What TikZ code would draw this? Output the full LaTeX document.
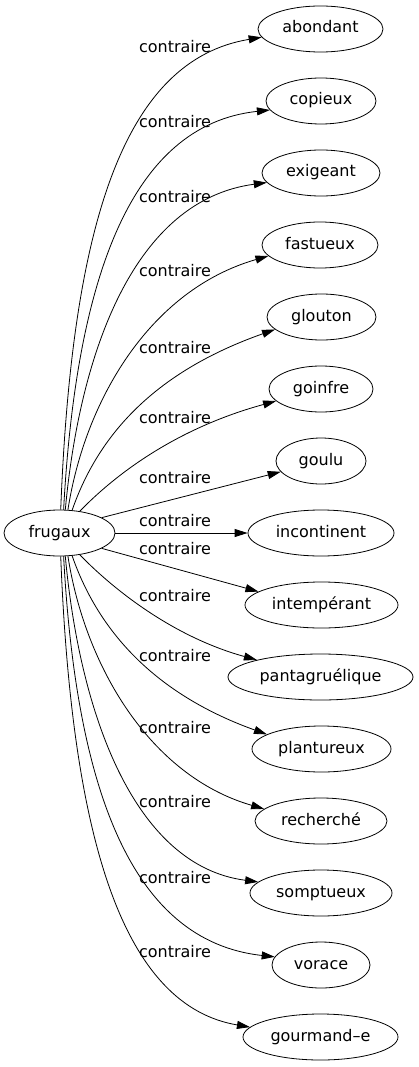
\documentclass[tikz,border=0pt]{standalone}
\usepackage{fontspec}
\setmainfont{DejaVu Sans}
\usetikzlibrary{shapes.geometric,arrows.meta}
\begin{document}
\begin{tikzpicture}[x=1pt,y=-1pt,
  every node/.style={font=\fontsize{16}{19}\selectfont},
  word/.style={draw, ellipse, line width=0.8pt, inner sep=0pt, minimum height=46pt, text height=11.5pt, text depth=3.5pt},
  lab/.style={inner sep=0pt, text height=11.5pt, text depth=0pt},
  rel/.style={line width=0.8pt, -{Triangle[length=13pt,width=8pt]}}]
\useasboundingbox (0,0) rectangle (419,1067);

\node[word, minimum width=111pt] (frugaux) at (59.5,533) {frugaux};
\node[word, minimum width=125pt] (abondant) at (320.5,29) {abondant};
\node[word, minimum width=110pt] (copieux) at (321,101) {copieux};
\node[word, minimum width=118pt] (exigeant) at (321,173) {exigeant};
\node[word, minimum width=116pt] (fastueux) at (320,245) {fastueux};
\node[word, minimum width=109pt] (glouton) at (321.5,317) {glouton};
\node[word, minimum width=104pt] (goinfre) at (321,389) {goinfre};
\node[word, minimum width=90pt] (goulu) at (321,461) {goulu};
\node[word, minimum width=146pt] (incontinent) at (321,533) {incontinent};
\node[word, minimum width=153pt] (intemperant) at (321.5,605) {intempérant};
\node[word, minimum width=185pt] (pantagruelique) at (320.5,677) {pantagruélique};
\node[word, minimum width=139pt] (plantureux) at (321.5,749) {plantureux};
\node[word, minimum width=132pt] (recherche) at (321,821) {recherché};
\node[word, minimum width=142pt] (somptueux) at (321,893) {somptueux};
\node[word, minimum width=98pt] (vorace) at (321,965) {vorace};
\node[word, minimum width=155pt] (gourmandE) at (320.5,1037) {gourmand–e};

\draw[rel] (frugaux.87) .. controls (72,220) and (125,60) .. (abondant.188);
\draw[rel] (frugaux.80) .. controls (76,280) and (130,125) .. (copieux.190);
\draw[rel] (frugaux.76) .. controls (80,350) and (135,200) .. (exigeant.190);
\draw[rel] (frugaux.70) .. controls (85,400) and (150,290) .. (fastueux.192);
\draw[rel] (frugaux.61) .. controls (100,430) and (160,370) .. (glouton.195);
\draw[rel] (frugaux.47) .. controls (110,480) and (170,430) .. (goinfre.195);
\draw[rel] (frugaux.20) -- (goulu.195);
\draw[rel] (frugaux.east) -- (incontinent.west);
\draw[rel] (frugaux.-20) -- (intemperant.168);
\draw[rel] (frugaux.-47) .. controls (110,586) and (170,636) .. (pantagruelique.165);
\draw[rel] (frugaux.-61) .. controls (100,636) and (160,696) .. (plantureux.165);
\draw[rel] (frugaux.-70) .. controls (85,666) and (150,776) .. (recherche.168);
\draw[rel] (frugaux.-76) .. controls (80,716) and (135,866) .. (somptueux.170);
\draw[rel] (frugaux.-80) .. controls (76,786) and (130,941) .. (vorace.170);
\draw[rel] (frugaux.-87) .. controls (72,846) and (125,1006) .. (gourmandE.172);

\node[lab] (l1) at (175,47) {contraire};
\node[lab] (l2) at (175,122) {contraire};
\node[lab] (l3) at (175,197) {contraire};
\node[lab] (l4) at (175,271) {contraire};
\node[lab] (l5) at (175,348) {contraire};
\node[lab] (l6) at (175,418) {contraire};
\node[lab] (l7) at (175,478) {contraire};
\node[lab] (l8) at (175,521) {contraire};
\node[lab] (l9) at (175,549) {contraire};
\node[lab] (l10) at (175,596) {contraire};
\node[lab] (l11) at (175,656) {contraire};
\node[lab] (l12) at (175,728) {contraire};
\node[lab] (l13) at (175,802) {contraire};
\node[lab] (l14) at (175,878) {contraire};
\node[lab] (l15) at (175,952) {contraire};
\end{tikzpicture}
\end{document}
